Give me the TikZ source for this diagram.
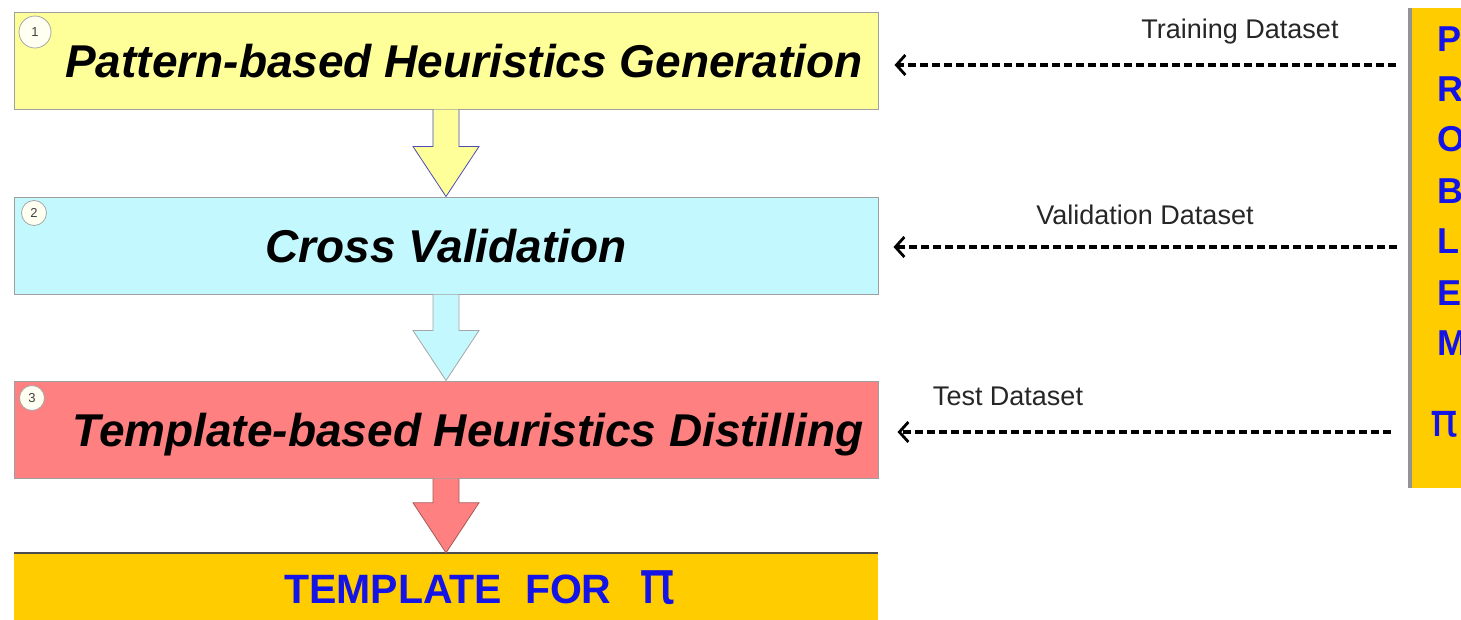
\documentclass[tikz,border=0pt]{standalone}
\usepackage{fontspec}
\setmainfont{Liberation Sans}
\newfontfamily\pifont{DejaVu Sans}
\usetikzlibrary{arrows.meta,calc}
\definecolor{yel}{HTML}{FFFF99}
\definecolor{cyn}{HTML}{C4F8FF}
\definecolor{sal}{HTML}{FF8080}
\definecolor{org}{HTML}{FFCC00}
\definecolor{txtblue}{HTML}{1414E6}
\definecolor{cream}{HTML}{FFFFF2}
\newcommand\blockarrowfrom[4]{%
  \draw[fill=#3, draw=#4, line width=0.8pt, line join=miter]
    ($(#1.south)+(-13,0)$) -- ($(#2.north)+(-13,-50)$) -- ($(#2.north)+(-33,-50)$)
    -- (#2.north) -- ($(#2.north)+(33,-50)$) -- ($(#2.north)+(13,-50)$)
    -- ($(#1.south)+(13,0)$);}
\begin{document}
\begin{tikzpicture}[x=1pt,y=-1pt,
  stage/.style={draw=gray!75, line width=1pt, minimum width=864pt, minimum height=97pt,
    inner sep=0pt, text height=33pt, text depth=0pt,
    font=\fontsize{46}{46}\selectfont\bfseries\itshape},
  numc/.style={circle, draw=gray!70, fill=cream, line width=0.8pt, inner sep=0pt,
    minimum size=25pt, text=gray!50!black, font=\fontsize{13}{13}\selectfont},
  dasharrow/.style={line width=3.2pt, dash pattern=on 8pt off 4pt,
    -{Straight Barb[length=9pt,width=20pt,line width=2.8pt]}},
  dslabel/.style={font=\fontsize{27}{27}\selectfont, text=black!85, inner sep=0pt},
  letter/.style={anchor=base west, inner sep=0pt, text=txtblue,
    font=\fontsize{36}{36}\selectfont\bfseries}
]
\useasboundingbox (0,0) rectangle (1461,619);
\fill[white] (0,0) rectangle (1461,619);

% stages
\node[stage, fill=yel] (b1) at (446,60.5) {\hspace*{36pt}Pattern-based Heuristics Generation};
\node[stage, fill=cyn] (b2) at (446,245.5) {Cross Validation};
\node[stage, fill=sal] (b3) at (446,429.5) {\hspace*{44pt}Template-based Heuristics Distilling};

% numbered circles
\node[numc, minimum size=32pt] (n1) at (35,32) {1};
\node[numc] (n2) at (34,213) {2};
\node[numc] (n3) at (32,398) {3};

% result bar
\node[fill=org, minimum width=864pt, minimum height=70pt, inner sep=0pt,
  text height=31pt, text depth=0pt, text=txtblue,
  font=\fontsize{41}{41}\selectfont\bfseries] (tmpl) at (446,588)
  {\hspace*{68pt}TEMPLATE\ \ FOR\hspace{28pt}{\pifont\mdseries\fontsize{60}{60}\selectfont π}};
\draw[gray!60!black, line width=1.6pt] (tmpl.north west) -- (tmpl.north east);

% block arrows
\blockarrowfrom{b1}{b2}{yel}{blue!40!gray}
\blockarrowfrom{b2}{b3}{cyn}{gray!70}
\blockarrowfrom{b3}{tmpl}{sal}{gray!70!red}

% problem bar
\node[fill=org, minimum width=56pt, minimum height=480pt, inner sep=0pt] (prob) at (1438,248) {};
\draw[gray!85, line width=3.5pt] (prob.north west) -- (prob.south west);
\foreach \ch/\yy [count=\i] in {P/51,R/101,O/151,B/203,L/253,E/305,M/355}
  \node[letter] (L\i) at (1437,\yy) {\ch};
\node[letter, font=\pifont\fontsize{46}{46}\selectfont] (L8) at (1430,436) {π};

% dashed inputs
\coordinate (s1) at (1396,65);
\coordinate (s2) at (1397,247);
\coordinate (s3) at (1391,432);
\draw[dasharrow] (s1) -- ($(b1.east|-s1)+(16,0)$);
\draw[dasharrow] (s2) -- ($(b2.east|-s2)+(15,0)$);
\draw[dasharrow] (s3) -- ($(b3.east|-s3)+(19,0)$);
\node[dslabel] (t1) at (1240,32) {Training Dataset};
\node[dslabel] (t2) at (1145,215) {Validation Dataset};
\node[dslabel] (t3) at (1008,396) {Test Dataset};
\end{tikzpicture}
\end{document}
